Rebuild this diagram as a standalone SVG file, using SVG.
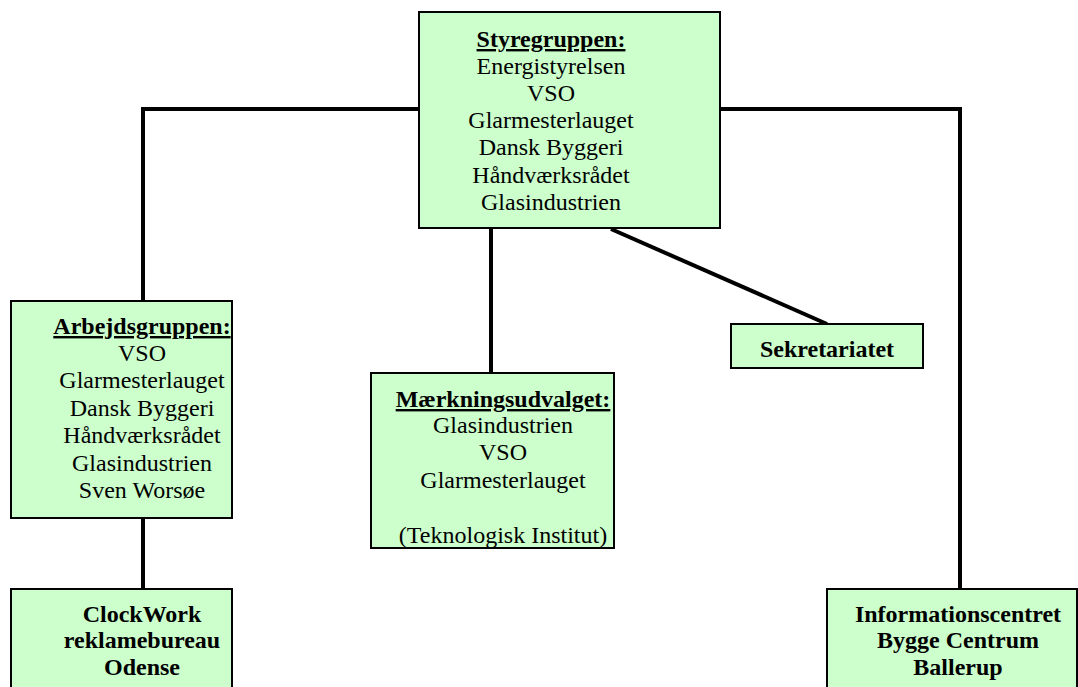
<svg xmlns="http://www.w3.org/2000/svg" width="1078" height="687" viewBox="0 0 1078 687">
<style>
.box{fill:#CCFFCC;stroke:#000;stroke-width:2}
.t{font-family:"Liberation Serif","Times New Roman",serif;font-size:24px;fill:#000;text-anchor:middle}
.b{font-weight:bold}
.u{font-weight:bold;text-decoration:underline}
.c{fill:none;stroke:#000;stroke-width:4}
</style>
<rect width="1078" height="687" fill="#fff"/>
<g id="connectors">
<polyline class="c" points="143,301 143,109 420,109"/>
<polyline class="c" points="720,109 960,109 960,589"/>
<line class="c" x1="491" y1="228" x2="491" y2="373"/>
<line class="c" x1="611" y1="229" x2="827" y2="324"/>
<line class="c" x1="143" y1="518" x2="143" y2="589"/>
</g>
<g id="styregruppen">
<rect class="box" x="419" y="12" width="301" height="216"/>
<text class="t u" x="551" y="47">Styregruppen:</text>
<text class="t" x="551" y="74">Energistyrelsen</text>
<text class="t" x="551" y="101">VSO</text>
<text class="t" x="551" y="128">Glarmesterlauget</text>
<text class="t" x="551" y="155">Dansk Byggeri</text>
<text class="t" x="551" y="183">Håndværksrådet</text>
<text class="t" x="551" y="210">Glasindustrien</text>
</g>
<g id="arbejdsgruppen">
<rect class="box" x="11" y="301" width="221" height="217"/>
<text class="t u" x="142" y="334">Arbejdsgruppen:</text>
<text class="t" x="142" y="361">VSO</text>
<text class="t" x="142" y="388">Glarmesterlauget</text>
<text class="t" x="142" y="416">Dansk Byggeri</text>
<text class="t" x="142" y="443">Håndværksrådet</text>
<text class="t" x="142" y="471">Glasindustrien</text>
<text class="t" x="142" y="498">Sven Worsøe</text>
</g>
<g id="maerkningsudvalget">
<rect class="box" x="371" y="373" width="243" height="175"/>
<text class="t u" x="503" y="407">Mærkningsudvalget:</text>
<text class="t" x="503" y="433">Glasindustrien</text>
<text class="t" x="503" y="460">VSO</text>
<text class="t" x="503" y="488">Glarmesterlauget</text>
<text class="t" x="503" y="543">(Teknologisk Institut)</text>
</g>
<g id="sekretariatet">
<rect class="box" x="731" y="324" width="192" height="44"/>
<text class="t b" x="827" y="357">Sekretariatet</text>
</g>
<g id="clockwork">
<rect class="box" x="11" y="589" width="221" height="110"/>
<text class="t b" x="142" y="622">ClockWork</text>
<text class="t b" x="142" y="648">reklamebureau</text>
<text class="t b" x="142" y="675">Odense</text>
</g>
<g id="informationscentret">
<rect class="box" x="827" y="589" width="250" height="110"/>
<text class="t b" x="958" y="622">Informationscentret</text>
<text class="t b" x="958" y="648">Bygge Centrum</text>
<text class="t b" x="958" y="675">Ballerup</text>
</g>
</svg>
